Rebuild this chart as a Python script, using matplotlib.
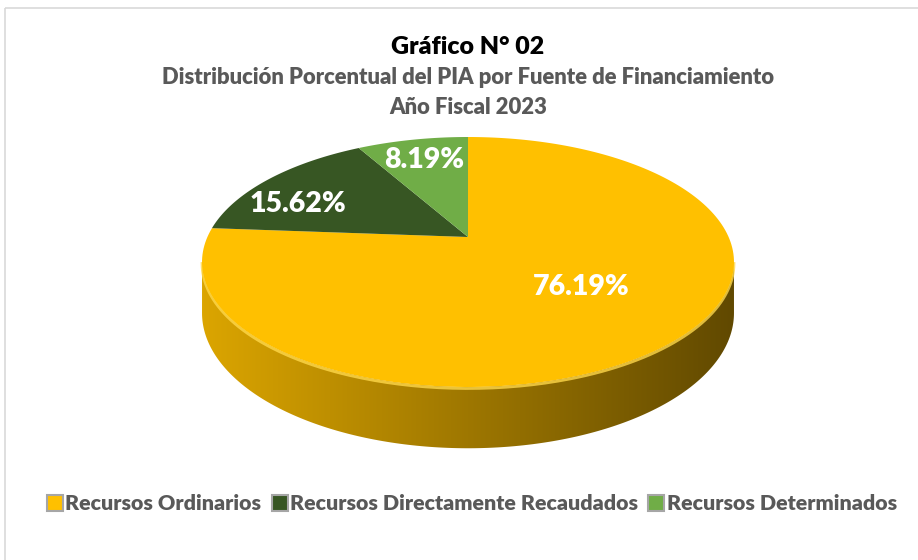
import numpy as np
import matplotlib.pyplot as plt
from matplotlib.colors import to_rgb
from matplotlib.patches import Polygon, Patch, Rectangle

plt.rcParams['font.family'] = ['Lato', 'DejaVu Sans']

# Datos del grafico
fuentes = ["Recursos Ordinarios", "Recursos Directamente Recaudados", "Recursos Determinados"]
porcentajes = [76.19, 15.62, 8.19]
colores = ["#FFC000", "#375623", "#70AD47"]

titulo = "Gráfico N° 02"
subtitulo = "Distribución Porcentual del PIA por Fuente de Financiamiento"
anio = "Año Fiscal 2023"

W, H = 918, 560
fig = plt.figure(figsize=(W / 100, H / 100), dpi=100)
ax = fig.add_axes([0, 0, 1, 1])
ax.set_xlim(0, W)
ax.set_ylim(H, 0)
ax.axis("off")

# borde del area del grafico
ax.add_patch(Rectangle((5, 8), W, H, fill=False, edgecolor="#D9D9D9", lw=1.2))

# vista en perspectiva de la torta
cx, cy = 468, 237
A, B, k = 260.6, 120.0, 0.2
grosor = 49


def proyectar(ang, r=1.0, z=0.0):
    """ang en grados, desde las 12 en sentido horario"""
    a = np.radians(ang)
    u = r * np.sin(a)
    v = r * np.cos(a)
    f = 1 + k * v
    return cx + A * u / f, cy - B * v / f + z * grosor / f


def arco(a0, a1, z=0.0, n=200):
    angs = np.linspace(a0, a1, n)
    x, y = proyectar(angs, 1.0, z)
    return np.column_stack([x, y])


# angulos de las porciones
limites = np.concatenate([[0], np.cumsum(porcentajes) / 100 * 360])

# parte frontal visible del costado
a_der = np.degrees(np.arccos(-k))
a_izq = 360 - a_der
x_izq = proyectar(a_izq)[0]
x_der = proyectar(a_der)[0]

# costados con degradado
for i, col in enumerate(colores):
    a0 = max(limites[i], a_der)
    a1 = min(limites[i + 1], a_izq)
    if a1 <= a0:
        continue
    arriba = arco(a0, a1)
    abajo = arco(a0, a1, z=1.0)[::-1]
    poly = Polygon(np.vstack([arriba, abajo]), closed=True, facecolor="none", edgecolor="none")
    ax.add_patch(poly)
    base = np.array(to_rgb(col))
    fac = np.linspace(0.86, 0.38, 300)
    grad = (base[None, :] * fac[:, None])[None, :, :]
    img = ax.imshow(grad, extent=[x_izq, x_der, 460, 130], aspect="auto", zorder=1,
                    interpolation="bilinear")
    img.set_clip_path(poly)
    # brillo del borde superior
    ax.plot(arriba[:, 0], arriba[:, 1] + 1.5, color="#FFD84A", lw=2.0, alpha=0.8, zorder=2)

# caras superiores
for i, col in enumerate(colores):
    pts = np.vstack([[proyectar(0, 0.0)], arco(limites[i], limites[i + 1])])
    ax.add_patch(Polygon(pts, closed=True, facecolor=col, edgecolor="none", zorder=3))

# etiquetas de porcentaje
radio_etiqueta = [0.555, 0.75, 0.76]
giro_etiqueta = [-3.2, -9.5, 0]
for i, p in enumerate(porcentajes):
    medio = (limites[i] + limites[i + 1]) / 2 + giro_etiqueta[i]
    x, y = proyectar(medio, radio_etiqueta[i])
    ax.text(x, y, f"{p:.2f}%", color="white", fontsize=20.5, fontweight="heavy",
            ha="center", va="center", zorder=5)

# titulos
ax.text(468, 47, titulo, fontsize=18, fontweight="heavy", color="black", ha="center", va="center")
ax.text(468, 78, subtitulo, fontsize=15.8, fontweight="heavy", color="#595959", ha="center", va="center")
ax.text(468, 107, anio, fontsize=15.8, fontweight="heavy", color="#595959", ha="center", va="center")

# leyenda
manejadores = [Patch(facecolor=c, edgecolor="#A6A6A6", lw=1.5) for c in colores]
fig.legend(manejadores, fuentes, loc="center left", bbox_to_anchor=(36 / W, 1 - 504 / H),
           ncol=3, frameon=False, borderpad=0, handlelength=0.75, handleheight=0.75,
           handletextpad=0.1, columnspacing=0.5, labelcolor="#595959",
           prop={"weight": "heavy", "size": 15.4})

fig.savefig("out.png", dpi=100)
